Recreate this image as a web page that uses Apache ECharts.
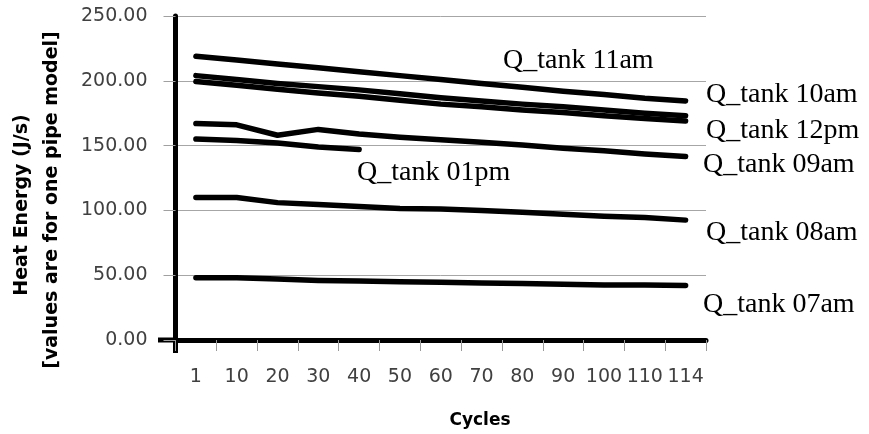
<!DOCTYPE html>
<html>
<head>
<meta charset="utf-8">
<script src="https://cdn.jsdelivr.net/npm/echarts@6/dist/echarts.min.js"></script>
<style>html,body{margin:0;padding:0;background:#fff;}#c{width:869px;height:434px;}</style>
</head>
<body>
<div id="c"></div>
<script>
var cycles = ['1','10','20','30','40','50','60','70','80','90','100','110','114'];
var q07am = [48, 48, 47, 46, 45.5, 45, 44.5, 44, 43.5, 43, 42.5, 42.5, 42];
var q08am = [110, 110, 106, 104.5, 103, 101.5, 101, 100, 98.5, 97, 95.5, 94.5, 92.5];
var q09am = [167, 166, 158, 162.5, 159, 156.5, 154.5, 152.5, 150.5, 148, 146, 143.5, 141.5];
var q10am = [204, 201, 198, 195.5, 193, 190, 187, 184.5, 182, 180, 177.5, 175, 173];
var q11am = [219, 216, 213, 210, 207, 204, 201, 198, 195, 192, 189.5, 186.5, 184.5];
var q12pm = [199.5, 196.5, 193.5, 190.5, 188, 185, 182, 180, 177.5, 175.5, 173, 171, 169];
var q01pm = [155, 154, 152, 149, 147, null, null, null, null, null, null, null, null];
var seriesNames = ['Q_tank 07am','Q_tank 08am','Q_tank 09am','Q_tank 10am','Q_tank 11am','Q_tank 12pm','Q_tank 01pm'];
var seriesData = [q07am, q08am, q09am, q10am, q11am, q12pm, q01pm];
var yTicks = {min: 0, max: 250, interval: 50};
var yTitle1 = 'Heat Energy (J/s)';
var yTitle2 = '[values are for one pipe model]';
var xTitle = 'Cycles';

var chart = echarts.init(document.getElementById('c'), null, {renderer: 'canvas'});
var lblFont = {fontFamily: 'Liberation Serif', fontSize: 28, fill: '#000'};
function lbl(text, x, y) {
  return {type: 'text', x: x, y: y, z: 10, style: Object.assign({text: text}, lblFont, {textAlign: 'left', textVerticalAlign: 'middle'})};
}
var series = seriesData.map(function (d, i) {
  return {
    name: seriesNames[i], type: 'line', data: d, showSymbol: false, symbol: 'none',
    connectNulls: false,
    lineStyle: {color: '#000', width: 5.5, cap: 'round', join: 'round'},
    z: 3
  };
});
chart.setOption({
  animation: false,
  grid: {left: 175.5, right: 163, top: 16, bottom: 94, containLabel: false},
  xAxis: {
    type: 'category', data: cycles, boundaryGap: true,
    axisLine: {show: true, lineStyle: {color: '#000', width: 5}},
    axisTick: {show: true, length: 11, interval: 0, lineStyle: {color: '#9a9a9a', width: 1}},
    axisLabel: {interval: 0, margin: 28, color: '#404040', fontFamily: 'DejaVu Sans', fontSize: 19},
    splitLine: {show: false}
  },
  yAxis: {
    type: 'value', min: yTicks.min, max: yTicks.max, interval: yTicks.interval,
    axisLine: {show: true, lineStyle: {color: '#000', width: 5}},
    axisTick: {show: true, length: 12, lineStyle: {color: '#a0a0a0', width: 1}},
    axisLabel: {margin: 28, color: '#404040', fontFamily: 'DejaVu Sans', fontSize: 19,
      formatter: function (v) { return v.toFixed(2); }},
    splitLine: {show: true, lineStyle: {color: '#a6a6a6', width: 1}}
  },
  series: series,
  graphic: [
    {type: 'text', x: 22, y: 205, rotation: Math.PI / 2,
      style: {text: yTitle1, fontFamily: 'DejaVu Sans', fontWeight: 'bold', fontSize: 19, fill: '#000', textAlign: 'center', textVerticalAlign: 'middle'}},
    {type: 'text', x: 52, y: 200, rotation: Math.PI / 2,
      style: {text: yTitle2, fontFamily: 'DejaVu Sans', fontWeight: 'bold', fontSize: 19, fill: '#000', textAlign: 'center', textVerticalAlign: 'middle'}},
    {type: 'text', x: 480, y: 421,
      style: {text: xTitle, fontFamily: 'DejaVu Sans', fontWeight: 'bold', fontSize: 17, fill: '#000', textAlign: 'center', textVerticalAlign: 'middle'}},
    {type: 'rect', shape: {x: 158, y: 337.5, width: 20, height: 5}, style: {fill: '#000'}},
    {type: 'rect', shape: {x: 173, y: 338, width: 5, height: 15}, style: {fill: '#000'}},
    lbl(seriesNames[4], 503, 61),
    lbl(seriesNames[3], 706, 95),
    lbl(seriesNames[5], 706, 131),
    lbl(seriesNames[2], 703, 165),
    lbl(seriesNames[6], 357, 173),
    lbl(seriesNames[1], 706, 233),
    lbl(seriesNames[0], 703, 305)
  ]
});
</script>
</body>
</html>
